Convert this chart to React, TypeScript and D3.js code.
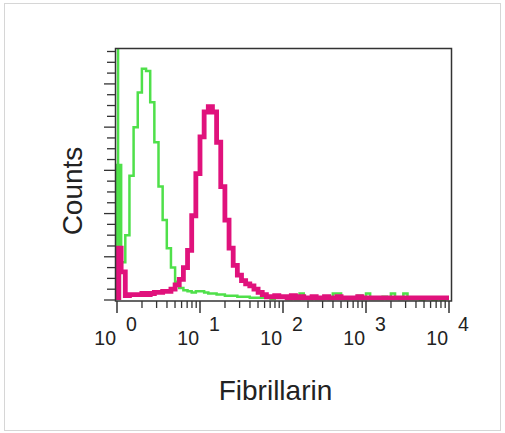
import React from "react";
import * as d3 from "d3";

// histogram bins: 0.05 decade wide, from 10^0 to 10^4
const binStep = 0.05;
const decades = [0, 1, 2, 3, 4];

// isotype control (green) counts per bin
const greenCounts = [
  125, 35, 60, 115, 160, 192, 214, 212, 183, 146, 105, 74, 48, 30, 17, 11, 9, 8, 7, 8,
  8, 7, 6, 6, 5, 5, 4, 4, 4, 3, 3, 3, 2, 2, 2, 2, 2, 1, 2, 3,
  2, 1, 2, 1, 6, 2, 1, 2, 1, 1, 2, 1, 6, 6, 2, 1, 2, 1, 4, 1,
  6, 1, 1, 1, 3, 1, 6, 2, 1, 6, 1, 1, 1, 0, 1, 1, 0, 1, 0, 1,
];
// off-scale pile-up in the first channel of the control
const greenFirstChannel = 260;

// Fibrillarin stained (magenta) counts per bin
const pinkCounts = [
  48, 26, 4, 5, 5, 5, 6, 5, 6, 7, 7, 8, 8, 10, 14, 19, 30, 46, 78, 117,
  151, 174, 179, 174, 146, 105, 74, 48, 32, 23, 18, 15, 13, 10, 7, 5, 3, 3, 4, 3,
  3, 2, 4, 2, 3, 2, 2, 3, 2, 2, 3, 2, 2, 3, 2, 2, 2, 2, 3, 2,
  2, 2, 2, 2, 2, 2, 2, 2, 2, 2, 2, 2, 2, 2, 2, 2, 2, 2, 2, 2,
];

const yMax = 230;
const yTickStep = 10;
const yMajorEvery = 40;

const W = 505;
const H = 433;
const font = "'Liberation Sans', Arial, sans-serif";

const App = () => {
  const x = d3.scaleLog().domain([1, 10000]).range([117, 449]);
  const y = d3.scaleLinear().domain([0, yMax]).range([300, 51.5]);

  const stepLine = (counts: number[]) => {
    const pts = counts.map((c, i) => [Math.pow(10, i * binStep), c] as [number, number]);
    pts.push([Math.pow(10, counts.length * binStep), counts[counts.length - 1]]);
    pts.unshift([1, 0]);
    return d3
      .line<[number, number]>()
      .x((d) => x(d[0]))
      .y((d) => y(d[1]))
      .curve(d3.curveStepAfter)(pts) as string;
  };

  const firstBinArea = (counts: number[]) =>
    d3
      .area<number>()
      .x((d) => x(d))
      .y0(y(0))
      .y1(y(counts[0]))([1, Math.pow(10, binStep)]) as string;

  const yTicks = d3.range(0, yMax + 1, yTickStep);
  const xMinor: number[] = [];
  for (let e = 0; e < 4; e++) for (let m = 2; m <= 9; m++) xMinor.push(m * Math.pow(10, e));

  const green = "#4fe04a";
  const pink = "#e0127c";
  const axisCol = "#333";

  return (
    <svg width={W} height={H} style={{ position: "absolute", left: 0, top: 0 }}>
      <rect x={0} y={0} width={W} height={H} fill="#fff" />
      <rect x={4.5} y={3.5} width={496} height={427} fill="none" stroke="#d6d6d6" />
      <defs>
        <clipPath id="plot">
          <rect x={115} y={49} width={337} height={252} />
        </clipPath>
      </defs>

      <g clipPath="url(#plot)">
        <path d={firstBinArea(greenCounts)} fill={green} />
        <line
          x1={x(1.03)}
          x2={x(1.03)}
          y1={y(0)}
          y2={y(greenFirstChannel)}
          stroke={green}
          strokeWidth={2.5}
        />
        <path d={stepLine(greenCounts)} fill="none" stroke={green} strokeWidth={2.5} />
        <path d={firstBinArea(pinkCounts)} fill={pink} />
        <path d={stepLine(pinkCounts)} fill="none" stroke={pink} strokeWidth={4.8} />
      </g>

      <rect x={115.5} y={48.5} width={336} height={252.5} fill="none" stroke={axisCol} strokeWidth={1.5} />

      {yTicks.map((t) => (
        <line
          key={"y" + t}
          x1={115}
          x2={t % yMajorEvery === 0 ? 104 : 107}
          y1={y(t)}
          y2={y(t)}
          stroke={axisCol}
          strokeWidth={1.3}
        />
      ))}

      {xMinor.map((t) => (
        <line key={"xm" + t} x1={x(t)} x2={x(t)} y1={301} y2={308} stroke={axisCol} strokeWidth={1.3} />
      ))}
      {decades.map((e) => (
        <g key={"xd" + e}>
          <line
            x1={x(Math.pow(10, e))}
            x2={x(Math.pow(10, e))}
            y1={301}
            y2={313}
            stroke={axisCol}
            strokeWidth={1.5}
          />
          <text
            x={x(Math.pow(10, e)) - 1}
            y={345}
            textAnchor="end"
            fontFamily={font}
            fontSize={19.5}
            fill="#222"
          >
            10
          </text>
          <text x={x(Math.pow(10, e)) + 9} y={331} fontFamily={font} fontSize={19.5} fill="#222">
            {e}
          </text>
        </g>
      ))}

      <text
        transform="translate(82,191) rotate(-90)"
        textAnchor="middle"
        fontFamily={font}
        fontSize={28}
        fill="#222"
      >
        Counts
      </text>
      <text x={275.5} y={400} textAnchor="middle" fontFamily={font} fontSize={28} fill="#222">
        Fibrillarin
      </text>
    </svg>
  );
};

export default App;
